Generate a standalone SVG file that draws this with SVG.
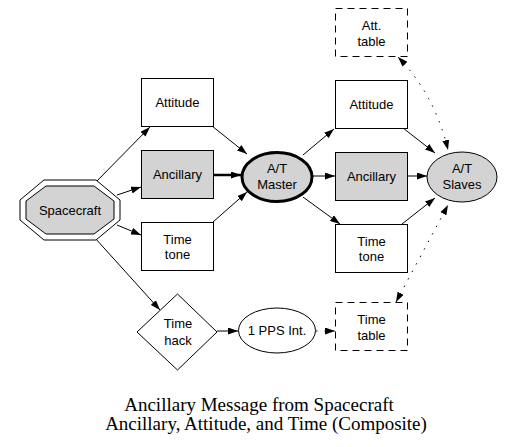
<svg xmlns="http://www.w3.org/2000/svg" width="516" height="447" viewBox="0 0 516 447">
<style>
  .box { fill: #ffffff; stroke: #000000; stroke-width: 1; }
  .gray { fill: #d3d3d3; stroke: #000000; stroke-width: 1; }
  .dash { fill: #ffffff; stroke: #000000; stroke-width: 1; stroke-dasharray: 7,5; }
  .lbl { font-family: "Liberation Sans", Arial, sans-serif; font-size: 13px; fill: #000000; text-anchor: middle; }
  .title { font-family: "Liberation Serif", "Times New Roman", serif; font-size: 19px; fill: #000000; text-anchor: middle; }
  .edge { fill: none; stroke: #000000; stroke-width: 1; }
  .bold { fill: none; stroke: #000000; stroke-width: 2.5; }
  .dot { fill: none; stroke: #000000; stroke-width: 1; stroke-dasharray: 1.5,7; }
</style>
<defs>
  <marker id="arr" viewBox="0 0 10 7" markerWidth="10" markerHeight="7" refX="10" refY="3.5" orient="auto" markerUnits="userSpaceOnUse">
    <path d="M0,0 L10,3.5 L0,7 z" fill="#000000"/>
  </marker>
  <marker id="arrs" viewBox="0 0 10 7" markerWidth="10" markerHeight="7" refX="0" refY="3.5" orient="auto" markerUnits="userSpaceOnUse">
    <path d="M10,0 L0,3.5 L10,7 z" fill="#000000"/>
  </marker>
</defs>
<rect width="516" height="447" fill="#ffffff"/>

<g id="connectors">
  <line class="edge" x1="95" y1="183" x2="150" y2="127" marker-end="url(#arr)"/>
  <line class="edge" x1="117" y1="195" x2="141" y2="187" marker-end="url(#arr)"/>
  <line class="edge" x1="117" y1="225" x2="141" y2="235" marker-end="url(#arr)"/>
  <line class="edge" x1="95" y1="238" x2="160" y2="310" marker-end="url(#arr)"/>
  <line class="edge" x1="212" y1="126" x2="247" y2="154" marker-end="url(#arr)"/>
  <line class="bold" x1="213" y1="175" x2="241" y2="175" marker-end="url(#arr)"/>
  <line class="edge" x1="213" y1="222" x2="247" y2="192" marker-end="url(#arr)"/>
  <line class="edge" x1="303" y1="155" x2="334" y2="129" marker-end="url(#arr)"/>
  <line class="edge" x1="313" y1="176" x2="335" y2="176" marker-end="url(#arr)"/>
  <line class="edge" x1="303" y1="197" x2="340" y2="224" marker-end="url(#arr)"/>
  <line class="edge" x1="403" y1="128" x2="435" y2="153" marker-end="url(#arr)"/>
  <line class="edge" x1="407" y1="176" x2="427" y2="176" marker-end="url(#arr)"/>
  <line class="edge" x1="402" y1="224" x2="435" y2="198" marker-end="url(#arr)"/>
  <line class="edge" x1="217" y1="331" x2="238" y2="331" marker-end="url(#arr)"/>
  <line class="dot" x1="316" y1="331" x2="335" y2="331" marker-end="url(#arr)"/>
  <path class="dot" d="M398,57 Q435,95 448,150" marker-start="url(#arrs)" marker-end="url(#arr)"/>
  <line class="dot" x1="396" y1="302" x2="448" y2="205" marker-start="url(#arrs)" marker-end="url(#arr)"/>
</g>

<g id="spacecraft">
  <polygon class="box" points="20,200 44,180 96,180 120,200 120,220 96,240 44,240 20,220"/>
  <polygon class="gray" points="26,201 46,186 94,186 114,201 114,219 94,234 46,234 26,219"/>
  <text class="lbl" x="70" y="215">Spacecraft</text>
</g>

<g id="attitude1">
  <rect class="box" x="141.5" y="78.5" width="72" height="48"/>
  <text class="lbl" x="177.5" y="107">Attitude</text>
</g>
<g id="ancillary1">
  <rect class="gray" x="141.5" y="150.5" width="72" height="48"/>
  <text class="lbl" x="177.5" y="179">Ancillary</text>
</g>
<g id="timetone1">
  <rect class="box" x="141.5" y="222.5" width="72" height="48"/>
  <text class="lbl" x="177.5" y="243.5">Time</text>
  <text class="lbl" x="177.5" y="258.5">tone</text>
</g>

<g id="timehack">
  <polygon class="box" points="177.5,294 217,332 177.5,370 137,332"/>
  <text class="lbl" x="178" y="327.5">Time</text>
  <text class="lbl" x="178" y="344.5">hack</text>
</g>

<g id="master">
  <ellipse cx="277" cy="177" rx="35" ry="24.5" fill="#d3d3d3" stroke="#000000" stroke-width="3"/>
  <text class="lbl" x="277" y="172.5">A/T</text>
  <text class="lbl" x="277" y="188.5">Master</text>
</g>

<g id="pps">
  <ellipse class="box" cx="277" cy="330.5" rx="38.5" ry="22.5"/>
  <text class="lbl" x="277" y="335">1 PPS Int.</text>
</g>

<g id="atttable">
  <rect class="dash" x="335.5" y="8.5" width="72" height="48"/>
  <text class="lbl" x="371.5" y="29.5">Att.</text>
  <text class="lbl" x="371.5" y="45.5">table</text>
</g>
<g id="attitude2">
  <rect class="box" x="335.5" y="80.5" width="72" height="48"/>
  <text class="lbl" x="371.5" y="109">Attitude</text>
</g>
<g id="ancillary2">
  <rect class="gray" x="335.5" y="152.5" width="72" height="48"/>
  <text class="lbl" x="371.5" y="181">Ancillary</text>
</g>
<g id="timetone2">
  <rect class="box" x="335.5" y="224.5" width="72" height="48"/>
  <text class="lbl" x="371.5" y="246">Time</text>
  <text class="lbl" x="371.5" y="261">tone</text>
</g>
<g id="timetable">
  <rect class="dash" x="335.5" y="302.5" width="72" height="48"/>
  <text class="lbl" x="371.5" y="323.5">Time</text>
  <text class="lbl" x="371.5" y="339.5">table</text>
</g>

<g id="slaves">
  <ellipse class="gray" cx="462" cy="177" rx="35" ry="25"/>
  <text class="lbl" x="462" y="172.5">A/T</text>
  <text class="lbl" x="462" y="188.5">Slaves</text>
</g>

<g id="title">
  <text class="title" x="259" y="411">Ancillary Message from Spacecraft</text>
  <text class="title" x="266" y="430">Ancillary, Attitude, and Time (Composite)</text>
</g>
</svg>
